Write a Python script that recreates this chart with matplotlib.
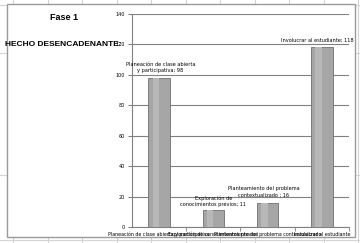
import numpy as np
import matplotlib.pyplot as plt
from matplotlib.patches import Rectangle

# data
categorias = ["Planeación de clase abierta y participativa",
              "Exploración de conocimientos previos",
              "Planteamiento del problema contextualizado",
              "Involucrar al estudiante"]
etiquetas = ["Planeación de clase abierta\ny participativa; 98",
             "Exploración de\nconocimientos previos; 11",
             "Planteamiento del problema\ncontextualizado ; 16",
             "Involucrar al estudiante; 118"]
valores = [98, 11, 16, 118]
yticks = [0, 20, 40, 60, 80, 100, 120, 140]

W, H = 360, 243
fig = plt.figure(figsize=(W / 100, H / 100), dpi=100)
fig.patch.set_facecolor("white")

# spreadsheet cells behind the chart
bg = fig.add_axes([0, 0, 1, 1])
bg.set_xlim(0, W)
bg.set_ylim(H, 0)
bg.axis("off")
for x in np.arange(13, W, 34.5):
    bg.axvline(x, color="#d4d4d4", lw=0.8)
for y in [5, 53, 175, 240]:
    bg.axhline(y, color="#d4d4d4", lw=0.8)

# chart frame
bg.add_patch(Rectangle((7, 4), 348, 233, facecolor="white",
                       edgecolor="#9a9a9a", lw=1.0, zorder=3))

bg.text(64, 17, "Fase 1", ha="center", va="center", fontsize=6.5,
        fontweight="bold", family="Liberation Sans", zorder=4)
bg.text(5, 44, "HECHO DESENCADENANTE:", ha="left", va="center", fontsize=6.0,
        fontweight="bold", family="Liberation Sans", zorder=4)

# plot area
x0, x1, ytop, ybot = 132, 349, 14, 227
ax = fig.add_axes([x0 / W, 1 - ybot / H, (x1 - x0) / W, (ybot - ytop) / H])
ax.set_zorder(5)
ax.patch.set_alpha(0)
pos = np.arange(len(valores))
ax.bar(pos, valores, width=0.4, color="#a6a6a6", edgecolor="#6f6f6f",
       lw=0.6, zorder=3)
# lighter strip on each bar
ax.bar(pos - 0.06, valores, width=0.12, color="#b8b8b8", lw=0, zorder=3.5)

ax.set_xlim(-0.5, 3.5)
ax.set_ylim(0, 140)
ax.set_yticks(yticks)
ax.set_yticklabels([str(v) for v in yticks], fontsize=3.5)
ax.yaxis.grid(True, color="#808080", lw=0.8)
ax.set_axisbelow(True)
ax.set_xticks(pos)
ax.set_xticklabels(categorias, fontsize=3.4)
ax.set_xticks([0.5, 1.5, 2.5, 3.5], minor=True)
ax.tick_params(axis="x", which="major", length=0, pad=3.5)
ax.tick_params(axis="x", which="minor", length=3, color="#808080")
ax.tick_params(axis="y", length=3, color="#808080", pad=2)
for s in ["top", "right"]:
    ax.spines[s].set_visible(False)
for s in ["left", "bottom"]:
    ax.spines[s].set_color("#808080")
    ax.spines[s].set_linewidth(0.8)

offs = [(0.02, 7), (0, 6), (-0.07, 7), (-0.09, 5)]
for i, (v, lab) in enumerate(zip(valores, etiquetas)):
    ax.text(i + offs[i][0], v + offs[i][1], lab, ha="center", va="center",
            fontsize=3.6, linespacing=1.3)

fig.savefig("out.png", dpi=100)
